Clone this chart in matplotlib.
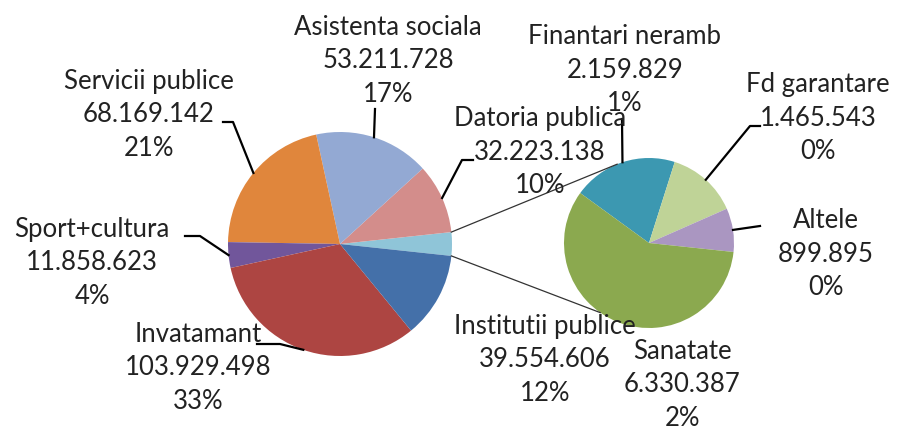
import matplotlib.pyplot as plt
import numpy as np

W, H = 900, 427

# main pie (the "other" slice is the sum of the small pie)
main_names = ['Datoria publica', 'Asistenta sociala', 'Servicii publice',
              'Sport+cultura', 'Invatamant', 'Institutii publice']
main_vals = [32223138, 53211728, 68169142, 11858623, 103929498, 39554606]
main_pct = [10, 17, 21, 4, 33, 12]
main_cols = ['#d38d8b', '#93a9d3', '#e0863c', '#71569b', '#ad4542', '#4470a9']
other_col = '#8fc5d8'

# small pie
sec_names = ['Finantari neramb', 'Fd garantare', 'Altele', 'Sanatate']
sec_vals = [2159829, 1465543, 899895, 6330387]
sec_pct = [1, 0, 0, 2]
sec_cols = ['#3c98b1', '#bfd397', '#aa96c1', '#8ba94f']

other = sum(sec_vals)
total = sum(main_vals) + other


def fmt(v):
    return '{:,}'.format(v).replace(',', '.')


def lab(name, v, p):
    return '%s\n%s\n%d%%' % (name, fmt(v), p)


# layout, in image pixels (y down)
c1, r1 = (340, 245), 112
c2, r2 = (649, 244), 85
sec_start = 144

main_lab = {'Datoria publica': (540, 152), 'Asistenta sociala': (388, 61),
            'Servicii publice': (149, 115), 'Sport+cultura': (92, 263),
            'Invatamant': (198, 368), 'Institutii publice': (545, 360)}
sec_lab = {'Finantari neramb': (625, 70), 'Fd garantare': (818, 118),
           'Altele': (826, 254), 'Sanatate': (682, 385)}
lead = {'Datoria publica': [(473, 161), (462, 161)],
        'Asistenta sociala': [(375, 110)],
        'Servicii publice': [(223, 123), (233, 123)],
        'Sport+cultura': [(185, 237), (200, 237)],
        'Invatamant': [(257, 345), (280, 345)],
        'Finantari neramb': [(622, 120)],
        'Fd garantare': [(760, 127), (750, 127)],
        'Altele': [(760, 227)]}

fig = plt.figure(figsize=(9, 4.27), dpi=100)
ax = fig.add_axes([0, 0, 1, 1])

vals1 = [other] + main_vals
cols1 = [other_col] + main_cols
ang_other = 360.0 * other / total
ax.pie(vals1, colors=cols1, startangle=-ang_other / 2, counterclock=True,
       center=(c1[0], H - c1[1]), radius=r1, wedgeprops=dict(linewidth=0))
ax.pie(sec_vals, colors=sec_cols, startangle=sec_start, counterclock=False,
       center=(c2[0], H - c2[1]), radius=r2, wedgeprops=dict(linewidth=0))


def on_circle(c, r, a):
    return c[0] + r * np.cos(np.radians(a)), H - c[1] + r * np.sin(np.radians(a))


# connector lines between the pies
p1 = on_circle(c1, r1, ang_other / 2)
p2 = on_circle(c1, r1, -ang_other / 2)
q1 = on_circle(c2, r2, 112)
q2 = on_circle(c2, r2, -125)
ax.plot([p1[0], q1[0]], [p1[1], q1[1]], color='#333333', lw=0.9, zorder=3)
ax.plot([p2[0], q2[0]], [p2[1], q2[1]], color='#333333', lw=0.9, zorder=3)

tkw = dict(ha='center', va='center', fontsize=18.5, family=['Lato', 'DejaVu Sans'],
           color='#222222', linespacing=1.42, zorder=5)

# main pie labels
a = ang_other / 2
for name, v, p in zip(main_names, main_vals, main_pct):
    span = 360.0 * v / total
    mid = a + span / 2
    a += span
    x, y = main_lab[name]
    ax.text(x, H - y, lab(name, v, p), **tkw)
    if name in lead:
        px, py = on_circle(c1, r1, mid)
        xs = [q[0] for q in lead[name]] + [px]
        ys = [H - q[1] for q in lead[name]] + [py]
        ax.plot(xs, ys, color='black', lw=1.6, zorder=4)

# small pie labels
a = sec_start
for name, v, p in zip(sec_names, sec_vals, sec_pct):
    span = 360.0 * v / other
    mid = a - span / 2
    a -= span
    x, y = sec_lab[name]
    ax.text(x, H - y, lab(name, v, p), **tkw)
    if name in lead:
        px, py = on_circle(c2, r2, mid)
        xs = [q[0] for q in lead[name]] + [px]
        ys = [H - q[1] for q in lead[name]] + [py]
        ax.plot(xs, ys, color='black', lw=1.6, zorder=4)

ax.set_xlim(0, W)
ax.set_ylim(0, H)
ax.set_aspect('auto')
ax.axis('off')
fig.savefig('out.png', dpi=100)
